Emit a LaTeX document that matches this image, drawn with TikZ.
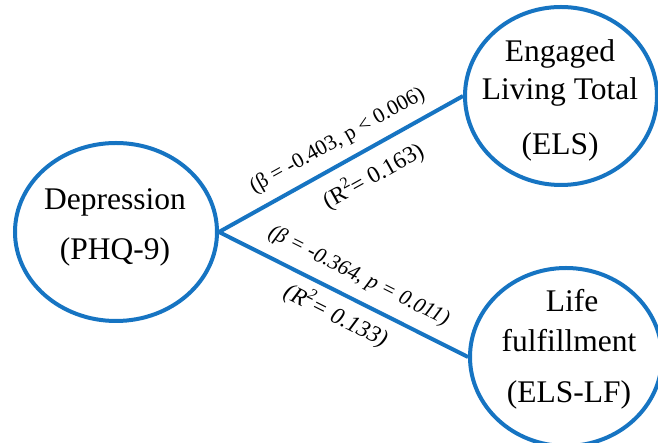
\documentclass[tikz,border=0pt]{standalone}
\usepackage{fontspec}
\setmainfont{Liberation Serif}
\usetikzlibrary{shapes.geometric}
\definecolor{pathblue}{RGB}{22,116,194}
\newcommand{\sqsup}{\raisebox{0.42em}{\fontsize{16}{16}\selectfont 2}}
\tikzset{
  construct/.style={ellipse, draw=pathblue, line width=4pt, fill=white,
    inner sep=0pt, minimum width=192pt, minimum height=178pt},
  bigtext/.style={anchor=base, inner sep=0pt, font=\fontsize{31.5}{36}\selectfont},
  path line/.style={draw=pathblue, line width=4pt},
  coef/.style={sloped, inner sep=0pt, font=\fontsize{21.5}{25}\selectfont},
  rsq/.style={sloped, inner sep=0pt, font=\fontsize{23.5}{27}\selectfont}
}
\begin{document}
\begin{tikzpicture}[x=1pt,y=1pt]
  \useasboundingbox (0,0) rectangle (658,443);

  % latent constructs
  \node[construct, minimum width=202pt] (dep) at (116,211) {};
  \node[construct] (els) at (561,347) {};
  \node[construct] (life) at (566,86) {};

  % construct labels
  \node[bigtext] (dep1) at (115,233) {Depression};
  \node[bigtext] (dep2) at (115,183) {(PHQ-9)};
  \node[bigtext] (els1) at (560,381) {Engaged};
  \node[bigtext] (els2) at (560,343) {Living Total};
  \node[bigtext] (els3) at (560,288) {(ELS)};
  \node[bigtext] (life1) at (572,131) {Life};
  \node[bigtext] (life2) at (569,91) {fulfillment};
  \node[bigtext] (life3) at (569,40) {(ELS-LF)};

  % regression paths with their coefficients
  \draw[path line] (dep.east) -- (els.west)
    node[coef, pos=0.53, above=10pt] (b1) {(β = -0.403, p < 0.006)}
    node[rsq, pos=0.58, below=11pt] (r1) {(R\sqsup= 0.163)};
  \draw[path line] (dep.east) -- (life.west)
    node[coef, pos=0.52, above=11pt, font=\fontsize{21.5}{25}\selectfont\itshape] (b2) {(β = -0.364, p = 0.011)}
    node[rsq, pos=0.51, below=7pt, font=\fontsize{23.5}{27}\selectfont\itshape] (r2) {(R\sqsup= 0.133)};
\end{tikzpicture}
\end{document}
